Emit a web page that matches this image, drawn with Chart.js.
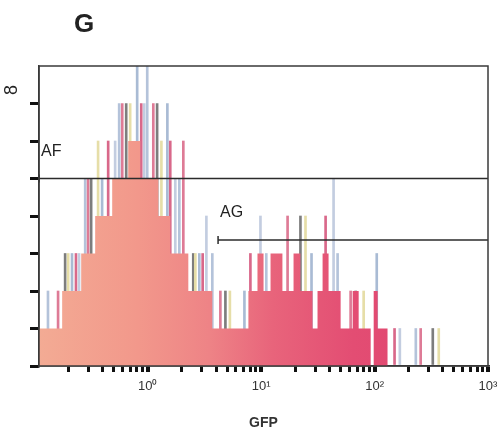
<!DOCTYPE html>
<html>
<head>
<meta charset="utf-8">
<script src="https://cdn.jsdelivr.net/npm/chart.js@4.4.1/dist/chart.umd.min.js"></script>
<style>
  html, body { margin: 0; padding: 0; background: #ffffff; }
  #wrap { width: 504px; height: 434px; }
</style>
</head>
<body>
<div id="wrap"><canvas id="c" width="504" height="434"></canvas></div>
<script>
// ---- data ----
const panelLetter = 'G';
const xAxisTitle = 'GFP';
const yMaxLabel = '8';
const yLabelAt = 7.36;

// histogram envelope: start of each bin (GFP) and its count
const binStarts = [0.110, 0.176, 0.259, 0.344, 0.486, 0.673, 0.859, 1.24, 1.58, 2.28, 3.71, 7.72, 9.28, 10.5, 12.1, 15.4, 19.3, 22.2, 28.4, 31.4, 34.8, 39.3, 50.2, 64.1, 72.4, 92.4, 98.2, 106.5, 130.6];
const binCounts = [1, 2, 3, 4, 5, 6, 5, 4, 3, 2, 1, 2, 3, 2, 3, 2, 3, 2, 1, 2, 3, 2, 1, 2, 1, 0, 2, 1, 0];

// single-channel spikes
const spikeX = [0.132, 0.162, 0.187, 0.199, 0.215, 0.233, 0.248, 0.281, 0.298, 0.317, 0.365, 0.396, 0.448, 0.516, 0.560, 0.596, 0.646, 0.700, 0.807, 0.877, 0.931, 0.990, 1.12, 1.21, 1.32, 1.49, 1.58, 1.75, 1.90, 2.06, 2.52, 2.63, 2.85, 3.05, 3.29, 3.71, 4.37, 4.84, 5.30, 7.12, 8.04, 9.86, 11.1, 17.1, 22.2, 24.6, 27.8, 37.0, 43.5, 47.2, 61.5, 68.1, 80.1, 104.5, 150, 167, 231, 255, 326, 368];
const spikeY = [2, 2, 3, 3, 3, 3, 3, 5, 5, 5, 6, 5, 6, 6, 7, 7, 7, 7, 8, 7, 7, 8, 7, 7, 6, 7, 6, 5, 5, 6, 3, 3, 3, 3, 4, 3, 2, 2, 2, 2, 3, 4, 3, 4, 4, 4, 3, 4, 5, 3, 2, 2, 2, 3, 1, 1, 1, 1, 1, 1];

// gate markers
const markerNames = ['AF', 'AG'];
const markerStarts = [0.110, 4.17];
const markerEnds = [1000, 1000];
const markerLevels = [5, 3.36];

// axes
const xMin = 0.110, xMax = 1000;
const yMin = 0, yMax = 8;
const yTickValues = [0, 1, 2, 3, 4, 5, 6, 7];
const xTickValues = [0.2, 0.3, 0.4, 0.5, 0.6, 0.7, 0.8, 0.9, 1, 2, 3, 4, 5, 6, 7, 8, 9, 10, 20, 30, 40, 50, 60, 70, 80, 90, 100, 200, 300, 400, 500, 600, 700, 800, 900, 1000];
const xMajorTicks = [1, 10, 100, 1000];
const xTickLabels = ['10\u2070', '10\u00b9', '10\u00b2', '10\u00b3'];

// ---- styles ----
const FONT = '"Liberation Sans", Arial, sans-serif';
const spikePalette = ['#b4c3da', '#de7b96', '#7d7d7d', '#e6dea8', '#a9bbd4', '#d9688a', '#c3cde0'];

const fillData = binStarts.map((v, i) => ({ x: v, y: binCounts[i] }));
const spikeData = spikeX.map((v, i) => ({ x: v, y: spikeY[i] }));

let grad = null;
function histFill(context) {
  const chart = context.chart;
  const a = chart.chartArea;
  if (!a) return '#ec8084';
  if (!grad) {
    grad = chart.ctx.createLinearGradient(a.left, 0, a.right, 0);
    grad.addColorStop(0.00, '#f3ab94');
    grad.addColorStop(0.22, '#f2988b');
    grad.addColorStop(0.38, '#ee8386');
    grad.addColorStop(0.52, '#e8647b');
    grad.addColorStop(0.70, '#e34d73');
    grad.addColorStop(1.00, '#de406c');
  }
  return grad;
}

const datasets = [
  {
    type: 'bar',
    data: spikeData,
    backgroundColor: spikeData.map((_, i) => spikePalette[i % spikePalette.length]),
    barThickness: 2,
    grouped: false,
    order: 3
  },
  {
    type: 'line',
    data: fillData,
    stepped: true,
    fill: 'origin',
    backgroundColor: histFill,
    borderColor: 'rgba(0,0,0,0)',
    borderWidth: 0,
    pointRadius: 0,
    order: 2
  }
];
markerNames.forEach((n, i) => {
  datasets.push({
    type: 'line',
    label: n,
    data: [{ x: markerStarts[i], y: markerLevels[i] }, { x: markerEnds[i], y: markerLevels[i] }],
    borderColor: '#2b2b2b',
    borderWidth: 1.5,
    fill: false,
    pointStyle: 'line',
    rotation: 90,
    pointRadius: [4, 0],
    pointBorderColor: '#2b2b2b',
    pointBorderWidth: 1.5,
    order: 1
  });
});

const annotate = {
  id: 'annotate',
  afterDatasetsDraw(chart) {
    const { ctx, chartArea: a, scales } = chart;
    const x = scales.x, y = scales.y;
    ctx.save();
    ctx.strokeStyle = '#3a3a3a';
    ctx.lineWidth = 1.5;
    ctx.strokeRect(a.left, a.top, a.right - a.left, a.bottom - a.top);

    ctx.fillStyle = '#222';
    ctx.font = '16px ' + FONT;
    ctx.textBaseline = 'middle';
    ctx.textAlign = 'left';
    markerNames.forEach((n, i) => {
      ctx.fillText(n, x.getPixelForValue(markerStarts[i]) + 2, y.getPixelForValue(markerLevels[i]) - 27);
    });

    ctx.font = 'bold 26px ' + FONT;
    ctx.textAlign = 'center';
    ctx.fillText(panelLetter, 84, 25);

    ctx.translate(12, y.getPixelForValue(yLabelAt));
    ctx.rotate(-Math.PI / 2);
    ctx.font = '18px ' + FONT;
    ctx.fillText(yMaxLabel, 0, 0);
    ctx.restore();
  }
};

new Chart(document.getElementById('c'), {
  type: 'line',
  data: { datasets },
  plugins: [annotate],
  options: {
    responsive: false,
    animation: false,
    events: [],
    layout: { padding: { top: 66, right: 16, left: 0, bottom: 0 } },
    plugins: { legend: { display: false }, tooltip: { enabled: false }, title: { display: false } },
    scales: {
      x: {
        type: 'logarithmic',
        min: xMin,
        max: xMax,
        offset: false,
        afterBuildTicks: (s) => { s.ticks = xTickValues.map(v => ({ value: v, major: xMajorTicks.includes(v) })); },
        afterFit: (s) => { s.height = 68; s.paddingLeft = 0; s.paddingRight = 0; },
        ticks: {
          autoSkip: false,
          maxRotation: 0,
          minRotation: 0,
          padding: 7,
          color: '#333',
          font: { family: FONT, size: 13 },
          callback: (v) => { const k = xMajorTicks.indexOf(v); return k >= 0 ? xTickLabels[k] : ''; }
        },
        grid: {
          offset: false,
          drawOnChartArea: false,
          drawTicks: true,
          tickLength: 6,
          color: '#111',
          lineWidth: (c) => (c.tick && c.tick.major ? 4 : 3)
        },
        border: { display: true, color: '#3a3a3a', width: 1.5 },
        title: {
          display: true,
          text: xAxisTitle,
          color: '#333',
          font: { family: FONT, size: 14, weight: 'bold' },
          padding: { top: 4, bottom: 2 }
        }
      },
      y: {
        type: 'linear',
        min: yMin,
        max: yMax,
        afterBuildTicks: (s) => { s.ticks = yTickValues.map(v => ({ value: v })); },
        afterFit: (s) => { s.width = 39; s.paddingTop = 0; s.paddingBottom = 0; },
        ticks: { display: false },
        grid: {
          drawOnChartArea: false,
          drawTicks: true,
          tickLength: 9,
          color: '#111',
          lineWidth: 3
        },
        border: { display: true, color: '#3a3a3a', width: 1.5 }
      }
    }
  }
});
</script>
</body>
</html>
